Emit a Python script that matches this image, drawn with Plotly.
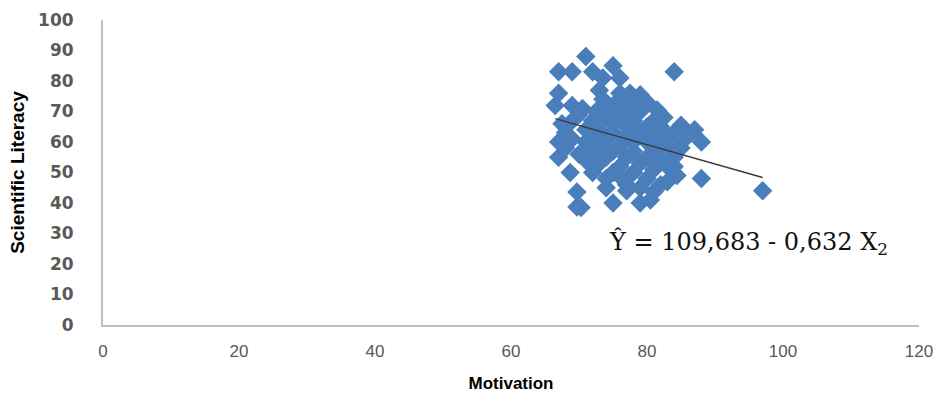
import numpy as np
import plotly.graph_objects as go

# Scatter data (Motivation vs Scientific Literacy)
motivation = [
    71, 67, 69, 72, 75, 73.5, 76, 84,
    67, 66.5, 69, 70.5, 73.5, 76, 77.5, 79, 81.5, 85, 87, 88,
    67, 68.7, 69.7, 69.7, 70.3, 75, 79, 81, 76.3, 74, 84.4, 83, 88, 97, 80.5, 77, 82,
    67, 68, 67.5, 68, 69, 69, 70, 70, 71, 71, 71,
    72, 72, 72, 72, 72.5, 73, 73, 73, 74, 74, 74, 74, 74, 73,
    75, 75, 75, 75, 75, 75.5, 76, 76, 76, 77, 77, 77, 77, 77, 77,
    78, 78, 78, 78, 78, 79, 79, 79, 79, 80, 80, 80, 80, 80,
    81, 81, 81, 81, 82, 82, 82, 83, 83, 83, 82.5,
    84, 84, 84, 85, 86, 84,
]
literacy = [
    88, 83, 83, 83, 85, 81, 81, 83,
    76, 72, 72, 71, 74, 76, 76, 75.5, 70.5, 65.5, 64, 60,
    55, 50, 43.6, 38.7, 38.5, 40, 40, 43.6, 48, 45, 49, 47, 48, 44, 41, 44, 46,
    60, 63, 66, 58, 61, 67, 69, 56, 54, 60, 64,
    50, 57, 62, 67, 70, 53, 59, 64, 48, 55, 61, 68, 72, 77,
    50, 57, 63, 66, 70, 73, 52, 59, 68, 46, 55, 62, 65, 71, 74,
    50, 57, 60, 67, 72, 45, 53, 63, 70, 48, 55, 60, 65, 73,
    51, 57, 63, 67, 54, 60, 65, 52, 58, 62, 68,
    55, 60, 63, 58, 62, 52,
]

# Regression line: Y = 109.683 - 0.632 X
intercept = 109.683
slope = -0.632
equation_text = "Ŷ = 109,683 - 0,632 X<sub>2</sub>"

x_ticks = [0, 20, 40, 60, 80, 100, 120]
y_ticks = [0, 10, 20, 30, 40, 50, 60, 70, 80, 90, 100]

line_x = np.array([min(motivation), max(motivation)])
line_y = intercept + slope * line_x

fig = go.Figure()
fig.add_trace(go.Scatter(
    x=motivation, y=literacy, mode="markers",
    marker=dict(symbol="diamond", size=15, color="#4A7EBB", line=dict(width=0)),
    showlegend=False,
))
fig.add_trace(go.Scatter(
    x=line_x, y=line_y, mode="lines",
    line=dict(color="#3a3a3a", width=1.5),
    showlegend=False,
))

fig.add_annotation(
    x=74.1, y=27, xref="x", yref="y", text=equation_text,
    showarrow=False, xanchor="left", yanchor="middle",
    font=dict(family="DejaVu Serif, Liberation Serif, serif", size=24, color="#111111"),
)

fig.update_layout(
    width=939, height=394,
    margin=dict(l=103, r=20, t=20, b=69),
    paper_bgcolor="white", plot_bgcolor="white",
    xaxis=dict(
        range=[0, 120], tickvals=x_ticks, showgrid=False, zeroline=False,
        showline=True, linecolor="#BFBFBF", linewidth=2, automargin=False,
        ticks="", ticklabelstandoff=10,
        tickfont=dict(family="Liberation Sans, Arial, sans-serif", size=17, color="#595959"),
        title=dict(text="<b>Motivation</b>", standoff=17,
                   font=dict(family="Liberation Sans Narrow, Liberation Sans, Arial", size=17, color="#000000")),
    ),
    yaxis=dict(
        range=[0, 100], tickvals=y_ticks, showgrid=False, zeroline=False,
        showline=True, linecolor="#BFBFBF", linewidth=2, automargin=False,
        ticks="", ticklabelstandoff=24,
        tickfont=dict(family="DejaVu Sans, Verdana, sans-serif", size=17, color="#595959", weight="bold"),
        title=dict(text="<b>Scientific Literacy</b>", standoff=8,
                   font=dict(family="Liberation Sans Narrow, Liberation Sans, Arial", size=19, color="#000000")),
    ),
)

fig.write_html("out.html", config={"displayModeBar": False},
               post_script="document.body.style.margin='0';")
